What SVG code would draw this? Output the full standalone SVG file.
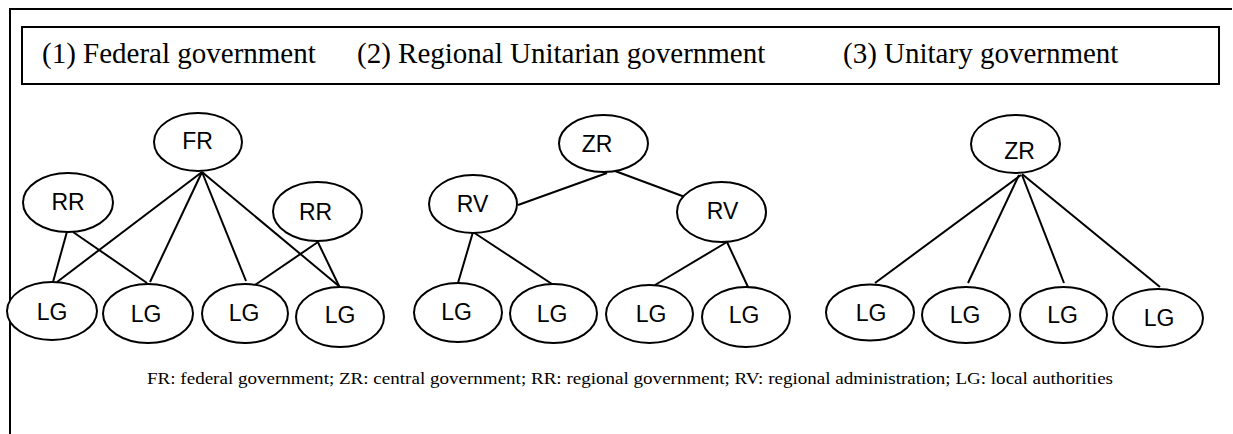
<svg xmlns="http://www.w3.org/2000/svg" width="1233" height="434" viewBox="0 0 1233 434">
<style>
.n ellipse{fill:#fff;stroke:#000;stroke-width:2}
.n text{font-family:"Liberation Sans",Arial,sans-serif;font-size:23px;text-anchor:middle;fill:#000}
.h{font-family:"Liberation Serif","Times New Roman",serif;font-size:29px;fill:#000}
.f{font-family:"Liberation Serif","Times New Roman",serif;font-size:17px;fill:#000}
#edges line{stroke:#000;stroke-width:2}
</style>
<rect width="1233" height="434" fill="#fff"/>
<g id="frame" fill="none" stroke="#000" stroke-width="2">
<path d="M10 434 V9 H1232"/>
<rect x="22" y="27" width="1197" height="57"/>
</g>
<g id="headers">
<text class="h" x="42" y="63">(1) Federal government</text>
<text class="h" x="357" y="63">(2) Regional Unitarian government</text>
<text class="h" x="843" y="63">(3) Unitary government</text>
</g>
<g id="edges">
<line x1="202" y1="172" x2="57" y2="282"/>
<line x1="202" y1="172" x2="150" y2="282"/>
<line x1="202" y1="172" x2="246" y2="281"/>
<line x1="202" y1="172" x2="340" y2="287"/>
<line x1="68" y1="228" x2="53" y2="282"/>
<line x1="73" y1="232" x2="147" y2="283"/>
<line x1="318" y1="242" x2="255" y2="285"/>
<line x1="313" y1="232" x2="340" y2="288"/>
<line x1="607" y1="173" x2="518" y2="205"/>
<line x1="615" y1="171" x2="685" y2="197"/>
<line x1="473" y1="232" x2="458" y2="283"/>
<line x1="473" y1="232" x2="552" y2="284"/>
<line x1="727" y1="242" x2="655" y2="285"/>
<line x1="727" y1="242" x2="748" y2="287"/>
<line x1="1021" y1="175" x2="875" y2="283"/>
<line x1="1019" y1="175" x2="968" y2="283"/>
<line x1="1022" y1="175" x2="1064" y2="283"/>
<line x1="1022" y1="174" x2="1160" y2="287"/>
</g>
<g id="FR" class="n"><ellipse cx="198" cy="142" rx="44" ry="29"/><text x="197.5" y="149">FR</text></g>
<g id="RR1" class="n"><ellipse cx="68" cy="202.5" rx="45" ry="29.5"/><text x="68" y="210">RR</text></g>
<g id="RR2" class="n"><ellipse cx="317.5" cy="211.5" rx="44.5" ry="29.5"/><text x="315.5" y="220">RR</text></g>
<g id="LG1" class="n"><ellipse cx="52" cy="311" rx="45" ry="29"/><text x="52" y="320">LG</text></g>
<g id="LG2" class="n"><ellipse cx="148" cy="313.5" rx="45" ry="29.5"/><text x="146" y="322">LG</text></g>
<g id="LG3" class="n"><ellipse cx="245" cy="313.5" rx="43" ry="29.5"/><text x="244" y="321">LG</text></g>
<g id="LG4" class="n"><ellipse cx="340" cy="317" rx="44" ry="30"/><text x="340" y="323">LG</text></g>
<g id="ZR1" class="n"><ellipse cx="603.5" cy="143.5" rx="44.5" ry="28.5"/><text x="597" y="152">ZR</text></g>
<g id="RV1" class="n"><ellipse cx="473" cy="204" rx="44" ry="29"/><text x="472.5" y="212">RV</text></g>
<g id="RV2" class="n"><ellipse cx="721.5" cy="212" rx="44.5" ry="30"/><text x="722.5" y="219">RV</text></g>
<g id="LG5" class="n"><ellipse cx="458" cy="312.5" rx="44" ry="29.5"/><text x="456.5" y="320">LG</text></g>
<g id="LG6" class="n"><ellipse cx="553.5" cy="313.5" rx="43.5" ry="29.5"/><text x="552" y="322">LG</text></g>
<g id="LG7" class="n"><ellipse cx="649.5" cy="314" rx="43.5" ry="29"/><text x="651" y="322">LG</text></g>
<g id="LG8" class="n"><ellipse cx="746" cy="317" rx="44" ry="30"/><text x="744" y="323">LG</text></g>
<g id="ZR2" class="n"><ellipse cx="1015.5" cy="144" rx="44.5" ry="29"/><text x="1019.5" y="159">ZR</text></g>
<g id="LG9" class="n"><ellipse cx="870" cy="312.5" rx="44" ry="28"/><text x="871" y="321">LG</text></g>
<g id="LG10" class="n"><ellipse cx="966" cy="315" rx="44" ry="28"/><text x="965" y="323">LG</text></g>
<g id="LG11" class="n"><ellipse cx="1063.5" cy="315" rx="43.5" ry="28"/><text x="1062.5" y="323">LG</text></g>
<g id="LG12" class="n"><ellipse cx="1158" cy="318" rx="45" ry="29"/><text x="1159" y="326">LG</text></g>
<text class="f" x="147" y="384" textLength="966" lengthAdjust="spacingAndGlyphs">FR: federal government; ZR: central government; RR: regional government; RV: regional administration; LG: local authorities</text>
</svg>
